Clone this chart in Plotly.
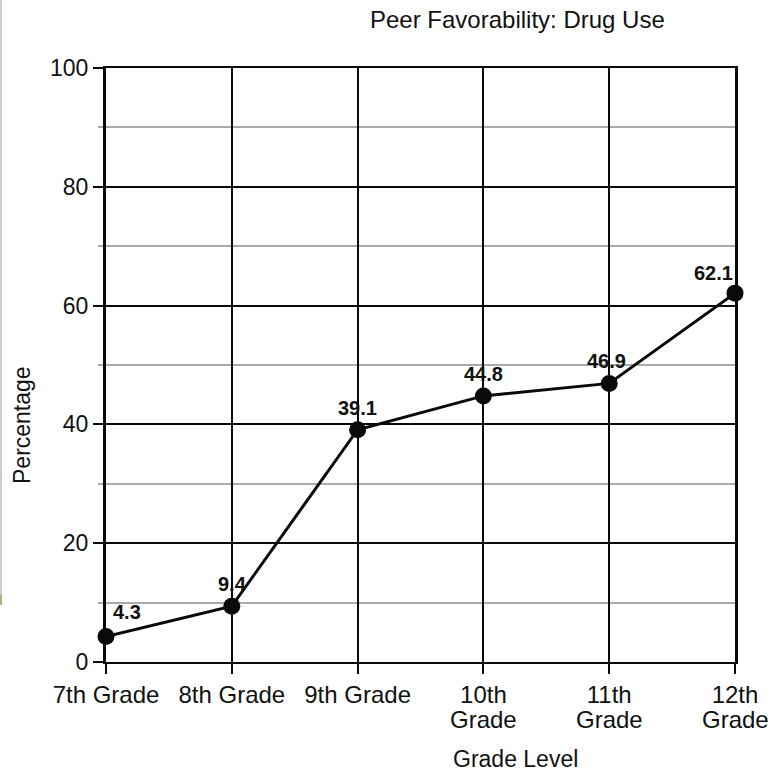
import plotly.graph_objects as go

grades_line1 = ["7th Grade", "8th Grade", "9th Grade", "10th", "11th", "12th"]
grades_line2 = ["", "", "", "Grade", "Grade", "Grade"]
values = [4.3, 9.4, 39.1, 44.8, 46.9, 62.1]
label_xshift = [21, 1, 0, 0, -3, -22]
label_yshift = [24, 22, 22, 22, 22, 20]
y_ticks = [0, 20, 40, 60, 80, 100]

FONT = "Liberation Sans, Arial, sans-serif"
xs = list(range(len(grades_line1)))

fig = go.Figure()
fig.add_trace(go.Scatter(
    x=xs, y=values, mode="lines+markers",
    line=dict(color="#0a0a0a", width=3),
    marker=dict(color="#0a0a0a", size=17),
    cliponaxis=False, hoverinfo="skip",
))

annotations = []
for x, v, dx, dy in zip(xs, values, label_xshift, label_yshift):
    annotations.append(dict(x=x, y=v, text=f"<b>{v}</b>", showarrow=False,
                            xshift=dx, yshift=dy, xanchor="center", yanchor="middle",
                            font=dict(family=FONT, size=20, color="#111")))

for x, t in zip(xs, grades_line2):
    if t:
        annotations.append(dict(x=x, y=0, yref="y", text=t, showarrow=False,
                                xanchor="center", yanchor="middle", yshift=-57,
                                font=dict(family=FONT, size=24, color="#111")))

annotations += [
    dict(text="Peer Favorability: Drug Use", xref="paper", yref="paper",
         x=(517 - 106) / 629, y=(662 - 20) / 594, xanchor="center", yanchor="middle",
         showarrow=False, font=dict(family=FONT, size=24, color="#111")),
    dict(text="Grade Level", xref="paper", yref="paper",
         x=(515 - 106) / 629, y=(662 - 759) / 594, xanchor="center", yanchor="middle",
         showarrow=False, font=dict(family=FONT, size=23, color="#111")),
    dict(text="Percentage", xref="paper", yref="paper", textangle=-90,
         x=(22 - 106) / 629, y=(662 - 425) / 594, xanchor="center", yanchor="middle",
         showarrow=False, font=dict(family=FONT, size=23, color="#111")),
]

fig.update_layout(
    width=771, height=772,
    margin=dict(l=106, r=36, t=68, b=110),
    paper_bgcolor="white", plot_bgcolor="white",
    showlegend=False,
    annotations=annotations,
    xaxis=dict(
        range=[0, 5], tickmode="array", tickvals=xs, ticktext=grades_line1,
        showgrid=True, gridcolor="#0a0a0a", gridwidth=1.5,
        ticks="outside", ticklen=10, tickwidth=2, tickcolor="#0a0a0a",
        showline=True, linecolor="#0a0a0a", linewidth=2, mirror=True,
        tickfont=dict(family=FONT, size=24, color="#111"),
        zeroline=False, fixedrange=True,
    ),
    yaxis=dict(
        range=[0, 100], tickmode="array", tickvals=y_ticks,
        showgrid=True, gridcolor="#0a0a0a", gridwidth=1.5,
        ticks="outside", ticklen=10, tickwidth=2, tickcolor="#0a0a0a",
        showline=True, linecolor="#0a0a0a", linewidth=3, mirror=True,
        tickfont=dict(family=FONT, size=23, color="#111"),
        zeroline=False, fixedrange=True,
        minor=dict(dtick=10, tick0=0, showgrid=True, gridcolor="#aaaaaa", gridwidth=1.5,
                   ticks="outside", ticklen=5, tickcolor="#aaaaaa", tickwidth=1.5),
    ),
    shapes=[
        dict(type="line", xref="paper", yref="paper", x0=(1 - 106) / 629, x1=(1 - 106) / 629,
             y0=(662 - 0) / 594, y1=(662 - 600) / 594, line=dict(color="#cccccc", width=2)),
        dict(type="line", xref="paper", yref="paper", x0=(1 - 106) / 629, x1=(1 - 106) / 629,
             y0=(662 - 595) / 594, y1=(662 - 605) / 594, line=dict(color="#b0b080", width=2)),
    ],
)

fig.write_html("out.html", config={"displayModeBar": False},
               post_script="document.body.style.margin='0';document.body.style.overflow='hidden';")
